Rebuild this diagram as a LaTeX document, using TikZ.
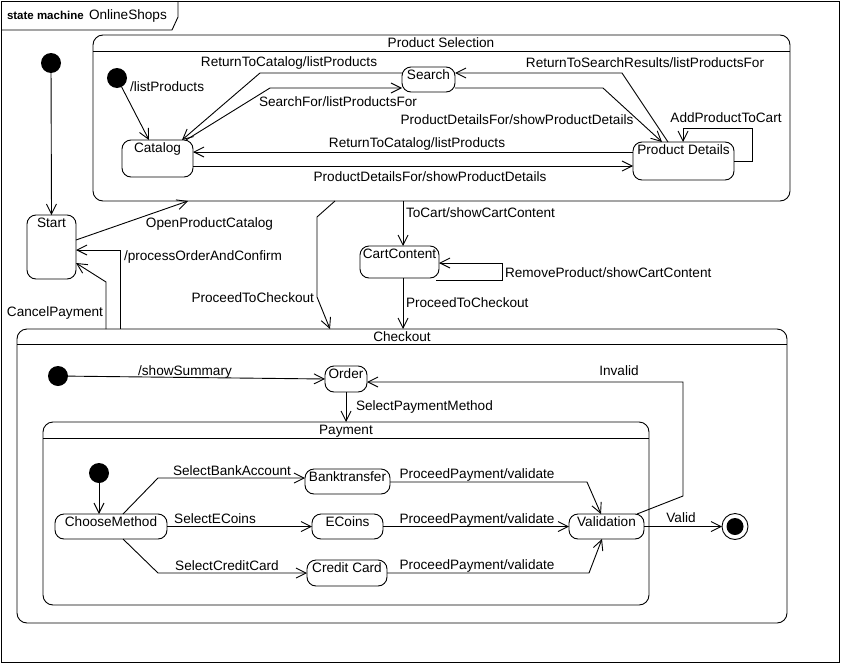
\documentclass[tikz,border=0pt]{standalone}
\usepackage{fontspec}
\setmainfont{Liberation Sans}
\usetikzlibrary{arrows.meta}
\begin{document}
\begin{tikzpicture}[x=1pt,y=-1pt,
  every node/.style={font=\fontsize{13.6}{15}\selectfont, inner sep=0pt, outer sep=0pt},
  lbl/.style={text height=10.5pt,text depth=1.5pt},
  statebox/.style={draw, line width=0.9pt, rounded corners=9pt},
  stname/.style={anchor=north, yshift=-3pt, inner sep=0pt, text height=9.7pt, text depth=2.5pt},
  comp/.style={draw, line width=0.9pt, rounded corners=10pt},
  initst/.style={circle, fill=black, minimum size=20pt},
  tr/.style={line width=0.9pt, -{Straight Barb[length=10pt,width=10pt]}},
  ln/.style={line width=0.9pt}
  ]
\useasboundingbox (0,0) rectangle (846,664);
% frame
\node[draw, line width=0.9pt, minimum width=838pt, minimum height=661pt] (frame) at (420,331.5) {};
\draw[ln] (frame.north west |- 0,30) -- (172,30) -- (178,17) -- (frame.north west -| 178,0);
\node[anchor=west, font=\fontsize{11.5}{13}\selectfont\bfseries, lbl] (kw) at (7,15) {state machine};
\node[anchor=west, lbl] (smname) at (89,15) {OnlineShops};

% composite states
\node[comp, minimum width=697pt, minimum height=166pt] (ps) at (441.5,118) {};
\draw[ln] (ps.west |- 0,51) -- (ps.east |- 0,51);
\node[lbl] (pstitle) at (441,43) {Product Selection};

\node[comp, minimum width=770pt, minimum height=294pt] (co) at (402,476) {};
\draw[ln] (co.west |- 0,344) -- (co.east |- 0,344);
\node[lbl] (cotitle) at (402,337) {Checkout};

\node[comp, minimum width=606pt, minimum height=183pt] (pay) at (346,513.5) {};
\draw[ln] (pay.west |- 0,438) -- (pay.east |- 0,438);
\node[lbl] (paytitle) at (346,430) {Payment};

% simple states
\node[statebox, minimum width=49pt, minimum height=64pt, label={[stname]north:Start}] (start) at (51.5,247) {};
\node[statebox, minimum width=71pt, minimum height=37pt, label={[stname]north:Catalog}] (catalog) at (157.5,158.5) {};
\node[statebox, minimum width=53pt, minimum height=25pt, label={[stname]north:Search}] (search) at (428.5,79.5) {};
\node[statebox, minimum width=101pt, minimum height=38pt, label={[stname]north:Product Details}] (pd) at (683.5,161) {};
\node[statebox, minimum width=79pt, minimum height=32pt, label={[stname]north:CartContent}] (cart) at (399.5,262) {};
\node[statebox, minimum width=42pt, minimum height=26pt, label={[stname]north:Order}] (order) at (346,379) {};
\node[statebox, minimum width=112pt, minimum height=25pt, label={[stname]north:ChooseMethod}] (choose) at (111,526.5) {};
\node[statebox, minimum width=85pt, minimum height=25pt, label={[stname]north:Banktransfer}] (bank) at (347.5,481.5) {};
\node[statebox, minimum width=71pt, minimum height=25pt, label={[stname]north:ECoins}] (ecoins) at (347.5,526.5) {};
\node[statebox, minimum width=80pt, minimum height=26pt, label={[stname]north:Credit Card}] (credit) at (347,573) {};
\node[statebox, minimum width=75pt, minimum height=25pt, label={[stname]north:Validation}] (valid) at (606.5,526.5) {};

% pseudo states
\node[initst] (init0) at (51,63) {};
\node[initst] (psinit) at (117,78) {};
\node[initst] (coinit) at (58,376) {};
\node[initst] (payinit) at (99,473) {};
\node[circle, draw, line width=0.9pt, minimum size=26pt] (final) at (735,526.5) {};
\node[circle, fill=black, minimum size=17pt] (finaldot) at (final) {};

% top level transitions
\draw[tr] (init0) -- (start.north);
\draw[tr] (start.east |- 0,240) -- (ps.south -| 188,0);
\node[lbl] (l1) at (209.5,223) {OpenProductCatalog};
\draw[tr] (co.north -| 120,0) -- (120,250) -- (start.east |- 0,250);
\node[lbl, anchor=west] (l2) at (124,256) {/processOrderAndConfirm};
\draw[tr] (co.north -| 106,0) -- (106,282) -- (start.east |- 0,263);
\node[lbl, anchor=east] (l3) at (103,312) {CancelPayment};
\draw[tr] (ps.south -| 335,0) -- (317,217) -- (317,297) -- (co.north -| 330,0);
\node[lbl, anchor=east] (l4) at (314,298) {ProceedToCheckout};
\draw[tr] (ps.south -| 403,0) -- (cart.north -| 403,0);
\node[lbl, anchor=west] (l5) at (406,213) {ToCart/showCartContent};
\draw[tr] ([xshift=-3pt,yshift=-2pt]cart.south east) -- (502,280) -- (502,263) -- (cart.east |- 0,263);
\node[lbl, anchor=west] (l6) at (505,273) {RemoveProduct/showCartContent};
\draw[tr] (cart.south -| 403,0) -- (co.north -| 403,0);
\node[lbl, anchor=west] (l7) at (406,303) {ProceedToCheckout};

% product selection transitions
\draw[tr] (psinit) -- (catalog.north -| 149,0);
\node[lbl, anchor=west] (l8) at (130,87) {/listProducts};
\draw[tr] (search.west |- 0,73) -- (260,73) -- (catalog.north -| 182,0);
\node[lbl] (l9) at (289,62) {ReturnToCatalog/listProducts};
\draw[tr] (catalog.north -| 186,0) -- (270,88) -- (search.west |- 0,88);
\node[lbl] (l10) at (338,102) {SearchFor/listProductsFor};
\draw[tr] (pd.north -| 668,0) -- (622,73) -- (search.east |- 0,73);
\node[lbl] (l11) at (645,63) {ReturnToSearchResults/listProductsFor};
\draw[tr] (search.east |- 0,88) -- (603,88) -- (pd.north -| 662,0);
\node[lbl] (l12) at (517,120) {ProductDetailsFor/showProductDetails};
\draw[tr] (pd.east |- 0,161) -- (752,161) -- (752,128) -- (683,128) -- (pd.north -| 683,0);
\node[lbl] (l13) at (726,118) {AddProductToCart};
\draw[tr] (pd.west |- 0,152) -- (catalog.east |- 0,152);
\node[lbl] (l14) at (417,143) {ReturnToCatalog/listProducts};
\draw[tr] (catalog.east |- 0,166) -- (pd.west |- 0,166);
\node[lbl] (l15) at (430,177) {ProductDetailsFor/showProductDetails};

% checkout transitions
\draw[tr] (coinit) -- (order.west);
\node[lbl] (l16) at (185,371) {/showSummary};
\draw[tr] (order.south) -- (pay.north -| order.south);
\node[lbl, anchor=west] (l17) at (356,406) {SelectPaymentMethod};
\draw[tr] ([xshift=-7pt]valid.north east) -- (683,496) -- (683,382) -- (order.east |- 0,382);
\node[lbl] (l18) at (619,371) {Invalid};
\draw[tr] (valid.east) -- (final);
\node[lbl] (l19) at (681,518) {Valid};

% payment transitions
\draw[tr] (payinit) -- (choose.north -| payinit);
\draw[tr] (choose.north -| 123,0) -- (158,478) -- (bank.west |- 0,478);
\node[lbl] (l20) at (232,471) {SelectBankAccount};
\draw[tr] (choose.east) -- (ecoins.west);
\node[lbl] (l21) at (215,519) {SelectECoins};
\draw[tr] (choose.south -| 123,0) -- (158,573) -- (credit.west |- 0,573);
\node[lbl] (l22) at (227,566) {SelectCreditCard};
\draw[tr] (bank.east |- 0,482) -- (587,482) -- (valid.north -| 601,0);
\node[lbl] (l23) at (477,474) {ProceedPayment/validate};
\draw[tr] (ecoins.east) -- (valid.west);
\node[lbl] (l24) at (477,519) {ProceedPayment/validate};
\draw[tr] (credit.east |- 0,573) -- (589,573) -- (valid.south -| 602,0);
\node[lbl] (l25) at (477,565) {ProceedPayment/validate};
\end{tikzpicture}
\end{document}
